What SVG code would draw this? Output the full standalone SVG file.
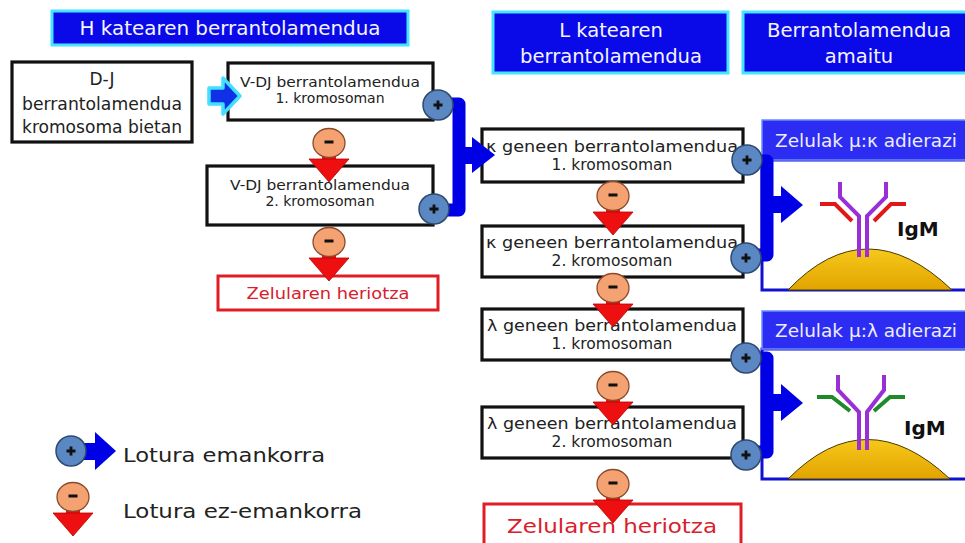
<svg xmlns="http://www.w3.org/2000/svg" width="965" height="543" viewBox="0 0 965 543">
  <style>
    .t { font-family: "DejaVu Sans", "Liberation Sans", sans-serif; fill: #222; }
    .hdr { fill: #0a0ae8; stroke: #46e4ff; stroke-width: 3; }
    .hdrt { font-family: "DejaVu Sans", "Liberation Sans", sans-serif; fill: #f4f4ff; font-size: 19.5px; text-anchor: middle; }
    .box { fill: #fff; stroke: #111; stroke-width: 3.2; }
    .dead { fill: #fff; stroke: #e01c24; stroke-width: 3; }
    .deadt { font-family: "DejaVu Sans", "Liberation Sans", sans-serif; fill: #d8202c; text-anchor: middle; }
    .c { text-anchor: middle; }
    .blue { fill: none; stroke: #0000e6; stroke-width: 13; stroke-linejoin: round; stroke-linecap: butt; }
    .bluef { fill: #0000e6; }
    .red { fill: #ee1010; stroke: #b80000; stroke-width: 0.8; }
    .phdr { fill: #2c2cf2; stroke: #6b8cff; stroke-width: 1.5; }
    .phdrt { font-family: "DejaVu Sans", "Liberation Sans", sans-serif; fill: #ececff; font-size: 17px; text-anchor: middle; }
    .panel { fill: #fff; stroke: #1010d0; stroke-width: 3; }
    .heavy { fill: none; stroke: #9a2fd6; stroke-width: 4; stroke-linejoin: miter; }
    .kappa { fill: none; stroke: #e01818; stroke-width: 4; }
    .lambda { fill: none; stroke: #1f8a2a; stroke-width: 4; }
    .igm { font-family: "DejaVu Sans", "Liberation Sans", sans-serif; font-weight: bold; font-size: 20px; fill: #111; }
    .dome { fill: url(#gold); stroke: #4a3a00; stroke-width: 1; }
  </style>
  <defs>
    <linearGradient id="gold" x1="0" y1="0" x2="0" y2="1">
      <stop offset="0" stop-color="#f6c81a"/>
      <stop offset="1" stop-color="#e2a400"/>
    </linearGradient>
    <!-- positive-selection badge -->
    <g id="plus">
      <ellipse cx="0" cy="0" rx="15" ry="15" fill="#5b88c2" stroke="#2c4a70" stroke-width="1.5"/>
      <path d="M-4.5,0 H4.5 M0,-4.5 V4.5" stroke="#111" stroke-width="2.8"/>
    </g>
    <!-- negative-selection badge with its down arrow -->
    <g id="minus">
      <rect x="-7" y="0" width="14" height="18" fill="#ee1010"/>
      <polygon class="red" points="-20,16 20,16 0,39"/>
      <ellipse cx="0" cy="0" rx="16" ry="14.5" fill="#f4a271" stroke="#8a4a2a" stroke-width="1.3"/>
      <path d="M-4.5,-1 H4.5" stroke="#111" stroke-width="3"/>
    </g>
  </defs>

  <rect width="965" height="543" fill="#fff"/>

  <!-- column headers -->
  <g id="hdr-h">
    <rect class="hdr" x="52" y="11" width="356" height="34"/>
    <text class="hdrt" x="230" y="35" textLength="301" lengthAdjust="spacingAndGlyphs">H katearen berrantolamendua</text>
  </g>
  <g id="hdr-l">
    <rect class="hdr" x="493" y="12" width="235" height="61"/>
    <text class="hdrt" x="611" y="37">L katearen</text>
    <text class="hdrt" x="611" y="63" textLength="182" lengthAdjust="spacingAndGlyphs">berrantolamendua</text>
  </g>
  <g id="hdr-end">
    <rect class="hdr" x="743" y="12" width="235" height="61"/>
    <text class="hdrt" x="859" y="37" textLength="184" lengthAdjust="spacingAndGlyphs">Berrantolamendua</text>
    <text class="hdrt" x="859" y="63">amaitu</text>
  </g>

  <!-- heavy chain column -->
  <g id="dj">
    <rect class="box" x="12" y="62" width="180" height="80"/>
    <text class="t c" x="102" y="85" font-size="17">D-J</text>
    <text class="t c" x="102" y="110" font-size="17" textLength="160" lengthAdjust="spacingAndGlyphs">berrantolamendua</text>
    <text class="t c" x="102" y="133" font-size="17" textLength="160" lengthAdjust="spacingAndGlyphs">kromosoma bietan</text>
  </g>
  <g id="vdj1">
    <rect class="box" x="228" y="63" width="205" height="57"/>
    <text class="t c" x="330" y="87" font-size="14" textLength="180" lengthAdjust="spacingAndGlyphs">V-DJ berrantolamendua</text>
    <text class="t c" x="330" y="103" font-size="14">1. kromosoman</text>
  </g>
  <g id="vdj2">
    <rect class="box" x="207" y="166" width="226" height="59"/>
    <text class="t c" x="320" y="190" font-size="14" textLength="180" lengthAdjust="spacingAndGlyphs">V-DJ berrantolamendua</text>
    <text class="t c" x="320" y="206" font-size="14">2. kromosoman</text>
  </g>
  <g id="death-h">
    <rect class="dead" x="218" y="276" width="220" height="34"/>
    <text class="deadt" x="328" y="299" font-size="15.5" textLength="163" lengthAdjust="spacingAndGlyphs">Zelularen heriotza</text>
  </g>

  <!-- light chain column -->
  <g id="k1">
    <rect class="box" x="482" y="129" width="261" height="53"/>
    <text class="t c" x="612" y="152" font-size="15.5" textLength="252" lengthAdjust="spacingAndGlyphs">κ  geneen berrantolamendua</text>
    <text class="t c" x="612" y="170" font-size="15.5">1. kromosoman</text>
  </g>
  <g id="k2">
    <rect class="box" x="482" y="226" width="261" height="51"/>
    <text class="t c" x="612" y="248" font-size="15.5" textLength="252" lengthAdjust="spacingAndGlyphs">κ  geneen berrantolamendua</text>
    <text class="t c" x="612" y="266" font-size="15.5">2. kromosoman</text>
  </g>
  <g id="l1">
    <rect class="box" x="482" y="309" width="261" height="51"/>
    <text class="t c" x="612" y="331" font-size="15.5" textLength="250" lengthAdjust="spacingAndGlyphs">λ  geneen berrantolamendua</text>
    <text class="t c" x="612" y="349" font-size="15.5">1. kromosoman</text>
  </g>
  <g id="l2">
    <rect class="box" x="482" y="407" width="261" height="51"/>
    <text class="t c" x="612" y="429" font-size="15.5" textLength="250" lengthAdjust="spacingAndGlyphs">λ  geneen berrantolamendua</text>
    <text class="t c" x="612" y="447" font-size="15.5">2. kromosoman</text>
  </g>
  <g id="death-l">
    <rect class="dead" x="484" y="504" width="257" height="45"/>
    <text class="deadt" x="612" y="533" font-size="20" textLength="210" lengthAdjust="spacingAndGlyphs">Zelularen heriotza</text>
  </g>

  <!-- expressing cells -->
  <g id="cell-k">
    <rect class="panel" x="762" y="160" width="210" height="130"/>
    <path class="dome" d="M788,290 Q866,208 952,290 Z"/>
    <polyline class="heavy" points="840,182 840,197 859,216 859,257"/>
    <polyline class="heavy" points="886,182 886,197 867,216 867,257"/>
    <polyline class="kappa" points="820,204 835,204 852,221"/>
    <polyline class="kappa" points="906,204 891,204 874,221"/>
    <text class="igm" x="897" y="236">IgM</text>
    <rect class="phdr" x="762" y="120" width="210" height="40"/>
    <text class="phdrt" x="866" y="147" textLength="182" lengthAdjust="spacingAndGlyphs">Zelulak μ:κ adierazi</text>
  </g>
  <g id="cell-l">
    <rect class="panel" x="762" y="349" width="210" height="130"/>
    <path class="dome" d="M788,479 Q866,400 950,479 Z"/>
    <polyline class="heavy" points="838,375 838,390 859,412 859,450"/>
    <polyline class="heavy" points="884,375 884,390 867,412 867,450"/>
    <polyline class="lambda" points="817,397 832,397 850,411"/>
    <polyline class="lambda" points="905,397 890,397 874,411"/>
    <text class="igm" x="904" y="435">IgM</text>
    <rect class="phdr" x="762" y="311" width="210" height="38"/>
    <text class="phdrt" x="866" y="337" textLength="182" lengthAdjust="spacingAndGlyphs">Zelulak μ:λ adierazi</text>
  </g>

  <!-- connectors -->
  <g id="connectors">
    <!-- entry arrow into first V-DJ step -->
    <path d="M209,88 H223 V78 L240,96 L223,114 V104 H209 Z" fill="#1030e8" stroke="#40e0ff" stroke-width="3.5" stroke-linejoin="round"/>

    <!-- productive heavy chain -> light chain rearrangement -->
    <path class="blue" d="M438,104 H459 V210 H434"/>
    <rect class="bluef" x="459" y="147" width="16" height="17"/>
    <polygon class="bluef" points="472,137 472,173 495,155"/>

    <!-- productive kappa -> mu:kappa cell -->
    <path class="blue" d="M747,161 H767 V255 H747"/>
    <rect class="bluef" x="767" y="196" width="17" height="17"/>
    <polygon class="bluef" points="781,186 781,223 803,205"/>

    <!-- productive lambda -> mu:lambda cell -->
    <path class="blue" d="M746,358 H767 V452 H746"/>
    <rect class="bluef" x="767" y="394" width="17" height="17"/>
    <polygon class="bluef" points="781,384 781,421 803,403"/>

    <!-- non-productive steps -->
    <use href="#minus" x="329" y="143"/>
    <use href="#minus" x="329" y="242"/>
    <use href="#minus" x="613" y="196"/>
    <use href="#minus" x="613" y="288"/>
    <use href="#minus" x="613" y="386"/>
    <use href="#minus" x="613" y="484"/>

    <!-- productive steps -->
    <use href="#plus" x="438" y="105"/>
    <use href="#plus" x="434" y="209"/>
    <use href="#plus" x="747" y="160"/>
    <use href="#plus" x="746" y="258"/>
    <use href="#plus" x="746" y="358"/>
    <use href="#plus" x="746" y="455"/>
  </g>

  <!-- legend -->
  <g id="legend">
    <rect class="bluef" x="84" y="443" width="14" height="17"/>
    <polygon class="bluef" points="95,432 95,470 116,451"/>
    <use href="#plus" x="71" y="451"/>
    <text class="t" x="123" y="462" font-size="20" textLength="202" lengthAdjust="spacingAndGlyphs">Lotura emankorra</text>
    <use href="#minus" x="73" y="497"/>
    <text class="t" x="123" y="518" font-size="20" textLength="239" lengthAdjust="spacingAndGlyphs">Lotura ez-emankorra</text>
  </g>
</svg>
